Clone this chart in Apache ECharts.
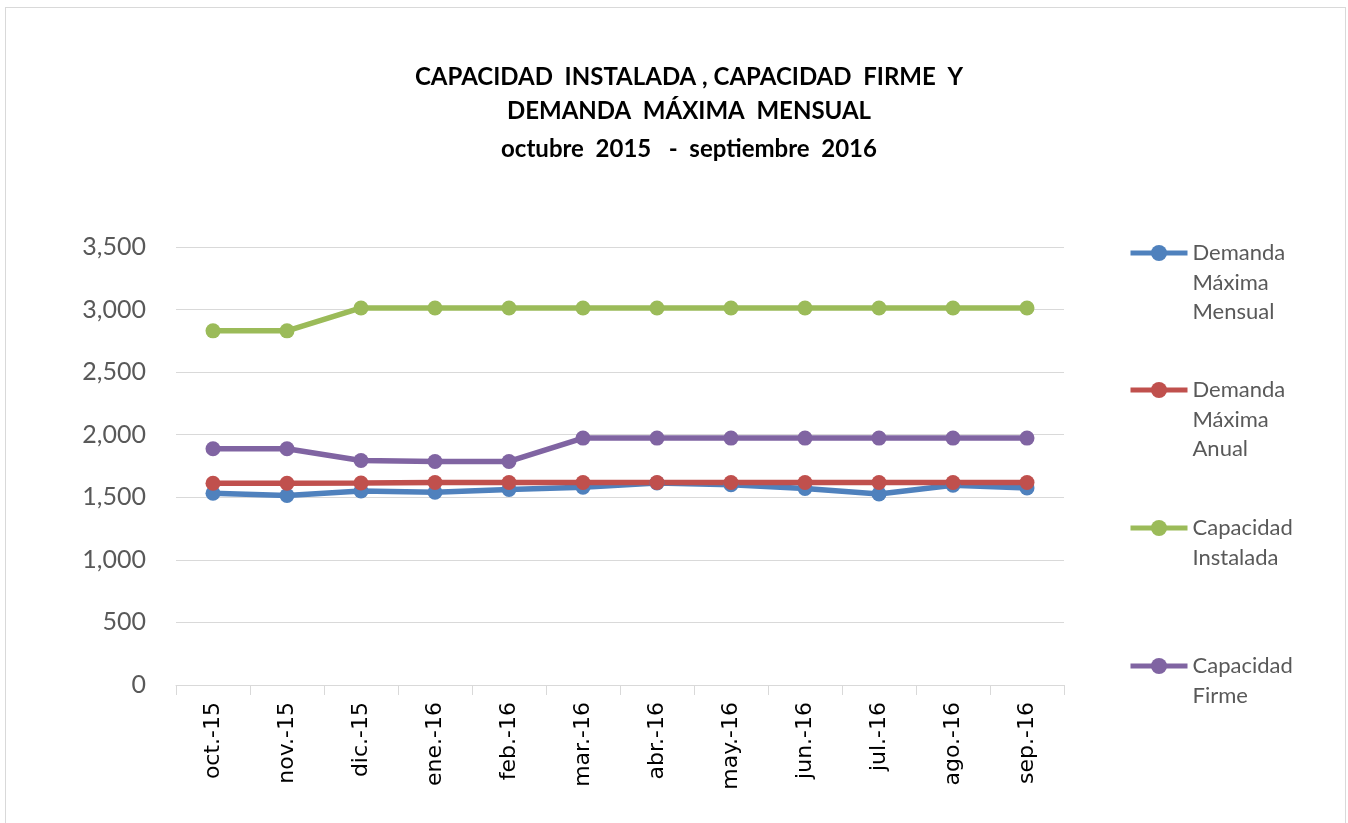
<!DOCTYPE html>
<html>
<head>
<meta charset="utf-8">
<script src="https://cdn.jsdelivr.net/npm/echarts@6/dist/echarts.min.js"></script>
<style>
    html, body { margin: 0; padding: 0; background: #fff; }
    #frame { position: absolute; left: 5px; top: 7px; width: 1341px; height: 830px; border: 1px solid #d9d9d9; box-sizing: border-box; pointer-events: none; }
    #main { width: 1348px; height: 823px; }
</style>
</head>
<body>
<div id="main"></div>
<div id="frame"></div>
<script>
// categorias (meses)
var meses = ['oct.-15', 'nov.-15', 'dic.-15', 'ene.-16', 'feb.-16', 'mar.-16', 'abr.-16', 'may.-16', 'jun.-16', 'jul.-16', 'ago.-16', 'sep.-16'];

// valores
var demandaMensual = [1532, 1514, 1550, 1540, 1562, 1580, 1615, 1600, 1570, 1527, 1597, 1575];
var demandaAnual = [1612, 1612, 1614, 1618, 1618, 1618, 1618, 1618, 1618, 1618, 1618, 1618];
var capInstalada = [2830, 2830, 3013, 3013, 3013, 3013, 3013, 3013, 3013, 3013, 3013, 3013];
var capFirme = [1888, 1888, 1794, 1786, 1786, 1973, 1973, 1973, 1973, 1973, 1973, 1973];

var nombres = ['Demanda Máxima Mensual', 'Demanda Máxima Anual', 'Capacidad Instalada', 'Capacidad Firme'];
var etiquetas = ['Demanda\nMáxima\nMensual', 'Demanda\nMáxima\nAnual', 'Capacidad\nInstalada', 'Capacidad\nFirme'];
var titulos = ['CAPACIDAD  INSTALADA , CAPACIDAD  FIRME  Y', 'DEMANDA  MÁXIMA  MENSUAL', 'octubre  2015   -  septiembre  2016'];
var colores = ['#4f81bd', '#c0504d', '#9bbb59', '#8064a2'];
var yTicks = [0, 500, 1000, 1500, 2000, 2500, 3000, 3500];

var fuente = 'Lato, "Open Sans", sans-serif';
var lh = 29.5;

let myChart = echarts.init(document.getElementById('main'));

// posicion vertical del icono de cada leyenda
var iconY = [253, 390, 528, 666];
var legends = nombres.map(function (n, i) {
    var lines = etiquetas[i].split('\n').length;
    // lineas vacias delante para que el icono quede en la primera linea
    var pre = new Array(lines).join('\n');
    return {
        orient: 'vertical',
        left: 1128,
        top: iconY[i] - (lines - 0.5) * lh,
        padding: 0,
        itemWidth: 57,
        itemHeight: 20,
        itemGap: 0,
        data: [n],
        formatter: function () { return pre + etiquetas[i]; },
        lineStyle: { width: 5 },
        textStyle: {
            color: '#595959',
            fontSize: 22,
            fontFamily: fuente,
            lineHeight: lh
        }
    };
});

var tituloTops = [65, 99, 137];
var titles = titulos.map(function (t, i) {
    return {
        text: t,
        left: 689,
        textAlign: 'center',
        top: tituloTops[i],
        padding: 0,
        textStyle: {
            fontSize: 24,
            fontWeight: 'bold',
            color: '#000',
            fontFamily: fuente,
            lineHeight: 24
        }
    };
});

function linea(i, datos) {
    return {
        name: nombres[i],
        type: 'line',
        data: datos,
        symbol: 'circle',
        symbolSize: 15,
        color: colores[i],
        lineStyle: { width: 5.5, color: colores[i] },
        itemStyle: { color: colores[i] }
    };
}

var option = {
    animation: false,
    title: titles,
    legend: legends,
    grid: { left: 176, right: 284, top: 247, bottom: 138 },
    xAxis: {
        type: 'category',
        data: meses,
        boundaryGap: true,
        axisLine: { lineStyle: { color: '#d9d9d9', width: 1 } },
        axisTick: { show: true, length: 10, lineStyle: { color: '#d9d9d9' } },
        axisLabel: {
            rotate: 90,
            margin: 17,
            color: '#000',
            fontSize: 22,
            fontFamily: '"DejaVu Sans", sans-serif'
        }
    },
    yAxis: {
        type: 'value',
        min: yTicks[0],
        max: yTicks[yTicks.length - 1],
        interval: 500,
        axisLine: { show: false },
        axisTick: { show: false },
        splitLine: { lineStyle: { color: '#d9d9d9', width: 1 } },
        axisLabel: {
            margin: 30,
            color: '#595959',
            fontSize: 25,
            fontFamily: fuente,
            formatter: function (v) { return echarts.format.addCommas(v); }
        }
    },
    series: [
        linea(0, demandaMensual),
        linea(1, demandaAnual),
        linea(2, capInstalada),
        linea(3, capFirme)
    ]
};

myChart.setOption(option);
</script>
</body>
</html>
